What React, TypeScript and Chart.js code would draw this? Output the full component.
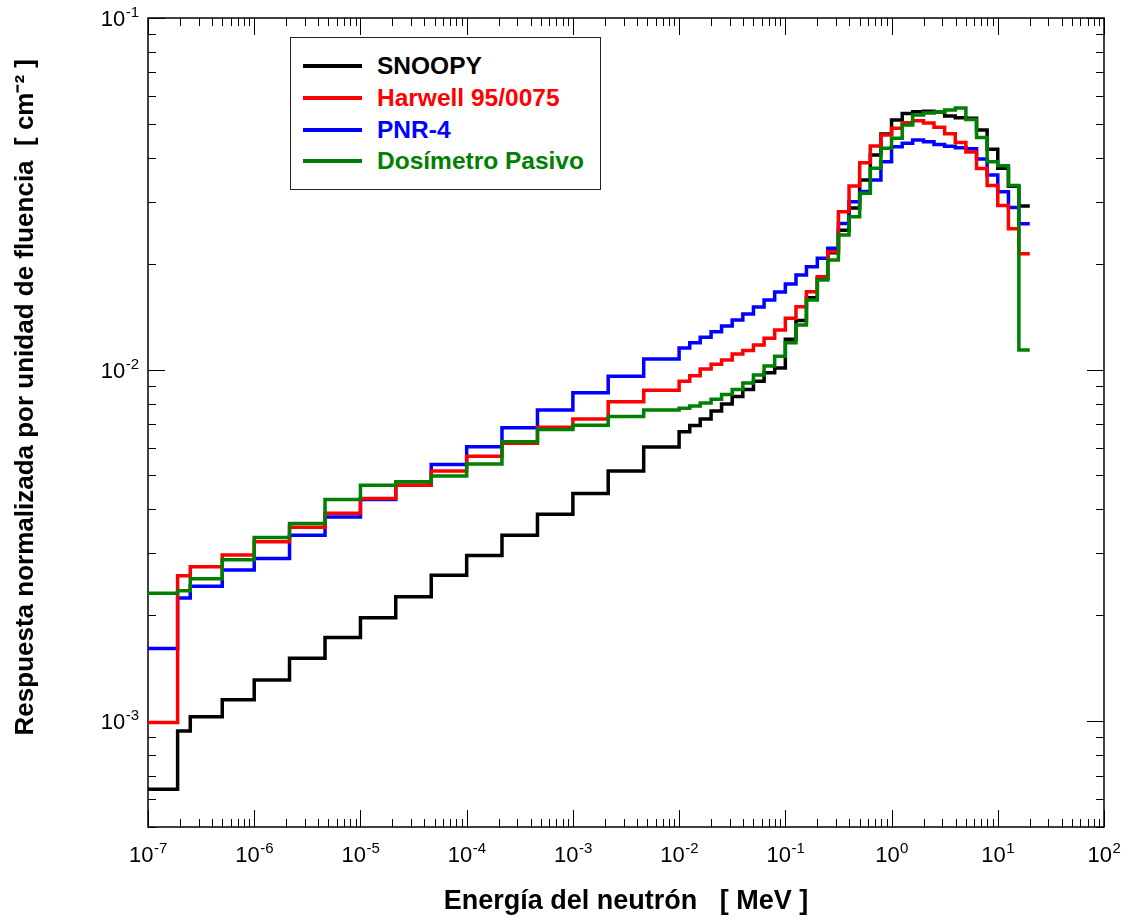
import React, { useEffect, useRef } from 'react';
import { Chart, registerables } from 'chart.js';

Chart.register(...registerables);

// Energy bin edges (MeV)
const energyEdges = [
  1e-7, 1.9e-7, 2.5e-7, 5e-7, 1e-6, 2.15e-6, 4.64e-6, 1e-5, 2.15e-5, 4.64e-5,
  1e-4, 2.15e-4, 4.64e-4, 1e-3, 2.15e-3, 4.64e-3, 1e-2,
  1.26e-2, 1.58e-2, 2.0e-2, 2.51e-2, 3.16e-2, 3.98e-2, 5.01e-2, 6.31e-2, 7.94e-2,
  0.1, 0.126, 0.158, 0.2, 0.251, 0.316, 0.398, 0.501, 0.631, 0.794,
  1, 1.26, 1.58, 2.0, 2.51, 3.16, 3.98, 5.01, 6.31, 7.94,
  10, 12.6, 15.8, 20,
];

// Response per bin (cm^-2)
const snoopy = [
  6.40e-4, 9.37e-4, 1.03e-3, 1.15e-3, 1.31e-3, 1.51e-3, 1.73e-3, 1.97e-3, 2.26e-3, 2.60e-3,
  2.96e-3, 3.38e-3, 3.88e-3, 4.44e-3, 5.15e-3, 6.02e-3, 6.65e-3, 6.93e-3, 7.24e-3, 7.62e-3,
  7.98e-3, 8.39e-3, 8.77e-3, 9.26e-3, 9.79e-3, 1.01e-2, 1.22e-2, 1.38e-2, 1.60e-2, 1.82e-2,
  2.15e-2, 2.49e-2, 2.88e-2, 3.46e-2, 4.08e-2, 4.68e-2, 5.13e-2, 5.35e-2, 5.41e-2, 5.43e-2,
  5.40e-2, 5.26e-2, 5.20e-2, 5.19e-2, 4.80e-2, 4.23e-2, 3.74e-2, 3.32e-2, 2.92e-2,
];

const harwell = [
  9.92e-4, 2.59e-3, 2.75e-3, 2.97e-3, 3.24e-3, 3.56e-3, 3.90e-3, 4.30e-3, 4.69e-3, 5.15e-3,
  5.67e-3, 6.17e-3, 6.86e-3, 7.24e-3, 8.10e-3, 8.74e-3, 9.26e-3, 9.60e-3, 1.003e-2, 1.036e-2,
  1.064e-2, 1.107e-2, 1.133e-2, 1.174e-2, 1.227e-2, 1.295e-2, 1.399e-2, 1.509e-2, 1.664e-2, 1.837e-2,
  2.163e-2, 2.811e-2, 3.327e-2, 3.875e-2, 4.323e-2, 4.646e-2, 4.856e-2, 5.036e-2, 5.10e-2, 5.027e-2,
  4.89e-2, 4.684e-2, 4.424e-2, 4.157e-2, 3.731e-2, 3.338e-2, 2.928e-2, 2.515e-2, 2.134e-2,
];

const pnr4 = [
  1.61e-3, 2.24e-3, 2.42e-3, 2.69e-3, 2.90e-3, 3.38e-3, 3.81e-3, 4.27e-3, 4.69e-3, 5.37e-3,
  6.03e-3, 6.83e-3, 7.67e-3, 8.59e-3, 9.58e-3, 1.072e-2, 1.152e-2, 1.192e-2, 1.235e-2, 1.281e-2,
  1.33e-2, 1.383e-2, 1.439e-2, 1.506e-2, 1.576e-2, 1.661e-2, 1.751e-2, 1.857e-2, 1.961e-2, 2.072e-2,
  2.212e-2, 2.605e-2, 3.002e-2, 3.209e-2, 3.46e-2, 3.901e-2, 4.304e-2, 4.40e-2, 4.497e-2, 4.447e-2,
  4.366e-2, 4.315e-2, 4.276e-2, 4.248e-2, 3.971e-2, 3.575e-2, 3.204e-2, 2.893e-2, 2.598e-2,
];

const dosimetroPasivo = [
  2.31e-3, 2.35e-3, 2.54e-3, 2.88e-3, 3.33e-3, 3.65e-3, 4.27e-3, 4.69e-3, 4.80e-3, 4.98e-3,
  5.39e-3, 6.23e-3, 6.75e-3, 6.95e-3, 7.36e-3, 7.67e-3, 7.76e-3, 7.88e-3, 8.03e-3, 8.23e-3,
  8.49e-3, 8.78e-3, 9.16e-3, 9.65e-3, 1.023e-2, 1.092e-2, 1.192e-2, 1.339e-2, 1.576e-2, 1.797e-2,
  2.049e-2, 2.413e-2, 2.721e-2, 3.171e-2, 3.736e-2, 4.259e-2, 4.548e-2, 4.96e-2, 5.297e-2, 5.367e-2,
  5.40e-2, 5.472e-2, 5.546e-2, 5.143e-2, 4.571e-2, 3.901e-2, 3.798e-2, 3.338e-2, 1.136e-2,
];

const seriesNames = ['SNOOPY', 'Harwell 95/0075', 'PNR-4', 'Dosímetro Pasivo'];
const seriesColors = ['#000000', '#ff0000', '#0000ff', '#008000'];

const xTickValues = [1e-7, 1e-6, 1e-5, 1e-4, 1e-3, 1e-2, 1e-1, 1e0, 1e1, 1e2];
const xTickExponents = ['-7', '-6', '-5', '-4', '-3', '-2', '-1', '0', '1', '2'];
const yTickValues = [1e-3, 1e-2, 1e-1];
const yTickExponents = ['-3', '-2', '-1'];

const X_MIN = 1e-7;
const X_MAX = 1e2;
const Y_MIN = 5e-4;
const Y_MAX = 1e-1;

const FONT = "'Liberation Sans', Arial, Helvetica, sans-serif";

function toSteps(values: number[]) {
  return energyEdges.map((e, i) => ({ x: e, y: values[Math.min(i, values.length - 1)] }));
}

const frameTicks = {
  id: 'frameTicks',
  beforeDatasetsDraw(chart: any) {
    const { ctx, chartArea: a, scales } = chart;
    const x = scales.x;
    const y = scales.y;
    const major = 17;
    const minor = 8;
    ctx.save();
    ctx.strokeStyle = '#000';
    ctx.lineWidth = 1;
    const seg = (x1: number, y1: number, x2: number, y2: number) => {
      ctx.beginPath();
      ctx.moveTo(x1, y1);
      ctx.lineTo(x2, y2);
      ctx.stroke();
    };
    for (let d = -7; d <= 2; d++) {
      for (let m = 1; m <= 9; m++) {
        const v = m * Math.pow(10, d);
        if (v < X_MIN * 0.999 || v > X_MAX * 1.001) continue;
        const p = Math.round(x.getPixelForValue(v)) + 0.5;
        const len = m === 1 ? major : minor;
        seg(p, a.bottom, p, a.bottom - len);
        seg(p, a.top, p, a.top + len);
      }
    }
    for (let d = -4; d <= -1; d++) {
      for (let m = 1; m <= 9; m++) {
        const v = m * Math.pow(10, d);
        if (v < Y_MIN * 0.999 || v > Y_MAX * 1.001) continue;
        const p = Math.round(y.getPixelForValue(v)) + 0.5;
        const len = m === 1 ? major : minor;
        seg(a.left, p, a.left + len, p);
        seg(a.right, p, a.right - len, p);
      }
    }
    ctx.lineWidth = 1.5;
    ctx.strokeRect(a.left, a.top, a.right - a.left, a.bottom - a.top);
    ctx.restore();
  },
  afterDraw(chart: any) {
    const { ctx, chartArea: a, scales } = chart;
    const x = scales.x;
    const y = scales.y;
    const baseFont = `22px ${FONT}`;
    const expFont = `15px ${FONT}`;
    ctx.save();
    ctx.fillStyle = '#000';
    ctx.textBaseline = 'alphabetic';
    ctx.textAlign = 'left';
    xTickValues.forEach((v, i) => {
      const p = x.getPixelForValue(v);
      ctx.font = baseFont;
      const wb = ctx.measureText('10').width;
      ctx.font = expFont;
      const we = ctx.measureText(xTickExponents[i]).width;
      const start = p - (wb + we) / 2;
      const baseY = a.bottom + 35;
      ctx.font = baseFont;
      ctx.fillText('10', start, baseY);
      ctx.font = expFont;
      ctx.fillText(xTickExponents[i], start + wb + 0.5, baseY - 9);
    });
    yTickValues.forEach((v, i) => {
      const p = y.getPixelForValue(v);
      ctx.font = baseFont;
      const wb = ctx.measureText('10').width;
      ctx.font = expFont;
      const we = ctx.measureText(yTickExponents[i]).width;
      const right = a.left - 9;
      const start = right - we - wb - 0.5;
      const baseY = p + 8;
      ctx.font = baseFont;
      ctx.fillText('10', start, baseY);
      ctx.font = expFont;
      ctx.fillText(yTickExponents[i], start + wb + 0.5, baseY - 9);
    });
    ctx.restore();
  },
};

export default function App() {
  const canvasRef = useRef<HTMLCanvasElement | null>(null);

  useEffect(() => {
    if (!canvasRef.current) return;
    const allSeries = [snoopy, harwell, pnr4, dosimetroPasivo];
    const drawOrder = [3, 1, 2, 0];
    const chart = new Chart(canvasRef.current, {
      type: 'line',
      data: {
        datasets: allSeries.map((vals, i) => ({
          label: seriesNames[i],
          data: toSteps(vals),
          borderColor: seriesColors[i],
          backgroundColor: seriesColors[i],
          borderWidth: 3.5,
          pointRadius: 0,
          stepped: 'before' as const,
          fill: false,
          order: drawOrder[i],
          borderJoinStyle: 'miter' as const,
        })),
      },
      options: {
        animation: false,
        responsive: false,
        devicePixelRatio: 1,
        layout: { padding: { left: 0, right: 27, top: 18, bottom: 0 } },
        plugins: {
          legend: { display: false },
          tooltip: { enabled: false },
        },
        scales: {
          x: {
            type: 'logarithmic',
            min: X_MIN,
            max: X_MAX,
            grid: { display: false },
            border: { display: false },
            afterBuildTicks: (scale: any) => {
              scale.ticks = xTickValues.map((v) => ({ value: v }));
            },
            afterFit: (scale: any) => {
              scale.height = 93;
            },
            ticks: { display: false },
            title: {
              display: true,
              text: 'Energía del neutrón   [ MeV ]',
              color: '#000',
              font: { family: FONT, size: 27, weight: 'bold' },
              padding: { top: 0, bottom: 2 },
            },
          },
          y: {
            type: 'logarithmic',
            min: Y_MIN,
            max: Y_MAX,
            grid: { display: false },
            border: { display: false },
            afterBuildTicks: (scale: any) => {
              scale.ticks = yTickValues.map((v) => ({ value: v }));
            },
            afterFit: (scale: any) => {
              scale.width = 148;
            },
            ticks: { display: false },
            title: {
              display: true,
              text: '       Respuesta normalizada por unidad de fluencia  [ cm⁻² ]',
              color: '#000',
              font: { family: FONT, size: 26, weight: 'bold' },
              padding: { top: 10, bottom: 0 },
            },
          },
        },
      },
      plugins: [frameTicks],
    } as any);
    return () => chart.destroy();
  }, []);

  const rowTops = [66, 98, 130, 161];

  return (
    <div style={{ position: 'absolute', left: 0, top: 0, width: 1131, height: 920, background: '#fff' }}>
      <canvas ref={canvasRef} width={1131} height={920} style={{ display: 'block', width: 1131, height: 920 }} />
      <div
        style={{
          position: 'absolute',
          left: 290,
          top: 37,
          width: 311,
          height: 153,
          boxSizing: 'border-box',
          border: '1.5px solid #222',
          background: '#fff',
        }}
      />
      {seriesNames.map((name, i) => (
        <React.Fragment key={name}>
          <div
            style={{
              position: 'absolute',
              left: 303,
              top: rowTops[i] - 2,
              width: 59,
              height: 4,
              background: seriesColors[i],
            }}
          />
          <div
            style={{
              position: 'absolute',
              left: 377,
              top: rowTops[i] - 15,
              height: 30,
              lineHeight: '30px',
              fontFamily: FONT,
              fontWeight: 'bold',
              fontSize: 24.5,
              color: seriesColors[i],
              whiteSpace: 'nowrap',
            }}
          >
            {name}
          </div>
        </React.Fragment>
      ))}
    </div>
  );
}
